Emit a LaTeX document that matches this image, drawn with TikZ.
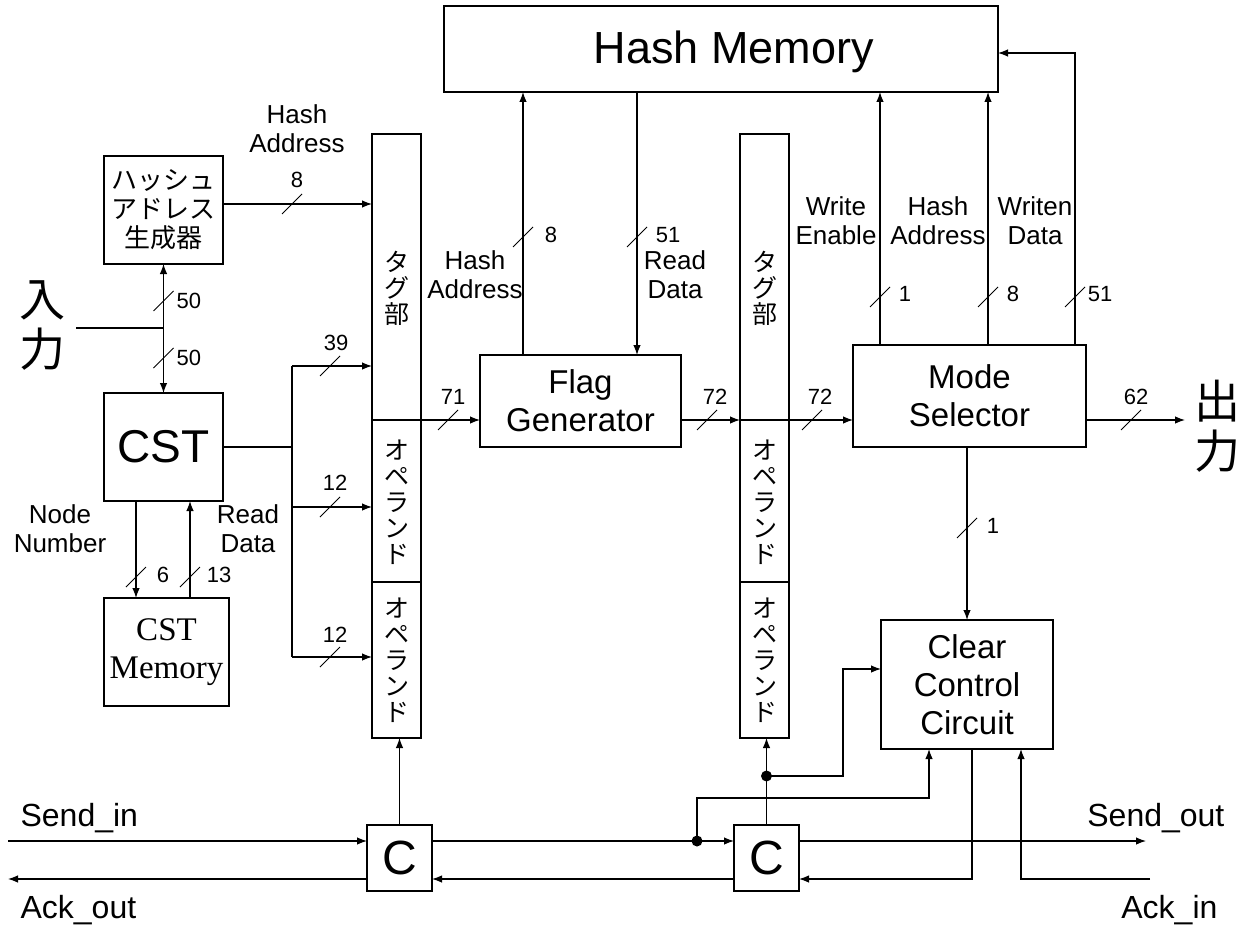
\documentclass[tikz,border=0pt]{standalone}
\usepackage{fontspec}
\setmainfont{Liberation Sans}
\newfontfamily\jp{Noto Sans CJK JP}
\newfontfamily\tms{Liberation Serif}
\usetikzlibrary{arrows.meta,calc}
\newcommand\busmark[1]{\draw[bus] (#1) ++(-10,10) -- ++(20,-20);}
\begin{document}
\begin{tikzpicture}[x=1pt,y=-1pt, line width=1.2pt,
  box/.style={draw, rectangle, inner sep=0pt, outer sep=0pt, align=center},
  arr/.style={-{Latex[length=10pt,width=7.5pt]}},
  bus/.style={line width=1pt},
  num/.style={font=\fontsize{22}{24}\selectfont, inner sep=0pt},
  lbl/.style={font=\fontsize{26}{29}\selectfont, align=center, inner sep=0pt},
  big/.style={font=\fontsize{33}{38}\selectfont},
  vjp/.style={font=\jp\fontsize{25}{26}\selectfont, align=center, inner sep=0pt},
  dot/.style={circle, fill, inner sep=0pt, minimum size=11pt},
  sig/.style={font=\fontsize{32}{36}\selectfont, inner sep=0pt}
]
\useasboundingbox (0,0) rectangle (1241,928);

% ---------- blocks ----------
\node[box, minimum width=554pt, minimum height=86pt] (hm) at (721,49) {};
\node[font=\fontsize{45}{50}\selectfont, anchor=base, inner sep=0pt] (hmt) at (734,64) {Hash Memory};

\node[box, minimum width=119pt, minimum height=108pt, font=\jp\fontsize{26}{29}\selectfont] (hg) at (163.5,210) {ハッシュ\\アドレス\\生成器};
\node[box, minimum width=119pt, minimum height=108pt, font=\fontsize{46}{50}\selectfont] (cst) at (163.5,447) {CST};
\node[box, minimum width=125pt, minimum height=108pt, font=\tms\fontsize{33}{38}\selectfont] (cstm) at (166.5,652) {CST\\Memory};

% register 1
\node[box, minimum width=49pt, minimum height=286pt] (tag1) at (396.5,277) {};
\node[vjp] (tag1t) at (397,288) {タ\\グ\\部};
\node[box, minimum width=49pt, minimum height=162pt] (op1a) at (396.5,501) {};
\node[vjp] (op1at) at (397,502) {オ\\ペ\\ラ\\ン\\ド};
\node[box, minimum width=49pt, minimum height=156pt] (op1b) at (396.5,660) {};
\node[vjp] (op1bt) at (397,660) {オ\\ペ\\ラ\\ン\\ド};

% register 2
\node[box, minimum width=49pt, minimum height=286pt] (tag2) at (764.5,277) {};
\node[vjp] (tag2t) at (765,288) {タ\\グ\\部};
\node[box, minimum width=49pt, minimum height=162pt] (op2a) at (764.5,501) {};
\node[vjp] (op2at) at (765,502) {オ\\ペ\\ラ\\ン\\ド};
\node[box, minimum width=49pt, minimum height=156pt] (op2b) at (764.5,660) {};
\node[vjp] (op2bt) at (765,660) {オ\\ペ\\ラ\\ン\\ド};

\node[box, minimum width=201pt, minimum height=92pt, big] (fg) at (580.5,401) {Flag\\Generator};
\node[box, minimum width=233pt, minimum height=102pt, big] (ms) at (969.5,396) {Mode\\Selector};
\node[box, minimum width=172pt, minimum height=129pt, big] (cc) at (967,684.5) {Clear\\Control\\Circuit};
\node[box, minimum width=65pt, minimum height=66pt, font=\fontsize{48}{50}\selectfont] (c1) at (399.5,858) {C};
\node[box, minimum width=65pt, minimum height=66pt, font=\fontsize{48}{50}\selectfont] (c2) at (766.5,858) {C};

% ---------- big Japanese labels ----------
\node[font=\jp\fontsize{46}{50}\selectfont, align=center, inner sep=0pt] (in) at (42,326) {入\\力};
\node[font=\jp\fontsize{46}{50}\selectfont, align=center, inner sep=0pt] (out) at (1217,426) {出\\力};

% ---------- helper coordinates ----------
\coordinate (ins) at (76,328);
\coordinate (inj) at (163.5,328);
\coordinate (hgo) at (223,204);
\coordinate (b39) at (292,366);
\coordinate (b12a) at (292,507);
\coordinate (b12b) at (292,657);
\coordinate (xNN) at (136,0);
\coordinate (xRD) at (190,0);
\coordinate (xHA) at (523,0);
\coordinate (xRDh) at (637,0);
\coordinate (xWE) at (880,0);
\coordinate (xMA) at (988,0);
\coordinate (tr) at (1075,53);
\coordinate (outp) at (1185,420);
\coordinate (sin) at (8,841);
\coordinate (aout) at (8,879);
\coordinate (j1) at (697,841);
\coordinate (j2) at (766.5,776);
\coordinate (k1) at (843,776);
\coordinate (k2) at (843,669);
\coordinate (k3) at (697,798);
\coordinate (k4) at (929,798);
\coordinate (k5) at (972,879);
\coordinate (k6) at (1021,879);
\coordinate (ain) at (1150,879);
\coordinate (sout) at (1146,841);

% ---------- connectors ----------
% input
\draw (ins) -- (inj);
\draw[arr] (inj) -- (hg.south);
\draw[arr] (inj) -- (cst.north);
\busmark{163.5,301} \node[num, anchor=west] (n50a) at (176,301) {50};
\busmark{163.5,358} \node[num, anchor=west] (n50b) at (176,358) {50};

% hash address generator -> tag
\draw[arr] (hgo -| hg.east) -- (hgo -| tag1.west);
\busmark{292,204} \node[num] (n8a) at (297,180) {8};
\node[lbl] (lHA1) at (297,129) {Hash\\Address};

% CST -> registers
\draw (cst.east) -- (cst.east -| b39);
\draw (b39) -- (b12b);
\draw[arr] (b39) -- (b39 -| tag1.west);
\draw[arr] (b12a) -- (b12a -| op1a.west);
\draw[arr] (b12b) -- (b12b -| op1b.west);
\busmark{330,366} \node[num] (n39) at (336,343) {39};
\busmark{330,507} \node[num] (n12a) at (335,483) {12};
\busmark{330,657} \node[num] (n12b) at (335,635) {12};

% CST <-> CST Memory
\draw[arr] (cst.south -| xNN) -- (cstm.north -| xNN);
\draw[arr] (cstm.north -| xRD) -- (cst.south -| xRD);
\busmark{136,577} \node[num] (n6) at (163,575) {6};
\busmark{190,577} \node[num] (n13) at (219,575) {13};
\node[lbl] (lNN) at (60,529) {Node\\Number};
\node[lbl] (lRD) at (248,529) {Read\\Data};

% register 1 -> flag generator
\draw[arr] (tag1.south west) -- (tag1.south west -| fg.west);
\busmark{448,420} \node[num] (n71) at (453,397) {71};

% flag generator <-> hash memory
\draw[arr] (fg.north -| xHA) -- (hm.south -| xHA);
\draw[arr] (hm.south -| xRDh) -- (fg.north -| xRDh);
\busmark{523,237} \node[num] (n8b) at (551,235) {8};
\busmark{637,237} \node[num] (n51a) at (668,235) {51};
\node[lbl] (lHA2) at (475,275) {Hash\\Address};
\node[lbl] (lRD2) at (675,275) {Read\\Data};

% flag generator -> register 2 -> mode selector
\draw[arr] (tag1.south west -| fg.east) -- (tag2.south west);
\busmark{707,420} \node[num] (n72a) at (715,397) {72};
\draw[arr] (tag2.south west) -- (tag2.south west -| ms.west);
\busmark{812,420} \node[num] (n72b) at (820,397) {72};

% mode selector -> output
\draw[arr] (outp -| ms.east) -- (outp);
\busmark{1131,420} \node[num] (n62) at (1136,397) {62};

% mode selector -> hash memory
\draw[arr] (ms.north -| xWE) -- (hm.south -| xWE);
\draw[arr] (ms.north -| xMA) -- (hm.south -| xMA);
\draw[arr] (ms.north -| tr) -- (tr) -- (tr -| hm.east);
\busmark{880,297} \node[num] (n1a) at (905,294) {1};
\busmark{988,297} \node[num] (n8c) at (1013,294) {8};
\busmark{1075,297} \node[num] (n51b) at (1100,294) {51};
\node[lbl] (lWE) at (836,221) {Write\\Enable};
\node[lbl] (lHA3) at (938,221) {Hash\\Address};
\node[lbl] (lWD) at (1035,221) {Writen\\Data};

% mode selector -> clear control
\draw[arr] (cc.north |- ms.south) -- (cc.north);
\busmark{967,528} \node[num] (n1b) at (993,526) {1};

% ---------- handshake ----------
\draw[arr] (sin) -- (sin -| c1.west);
\draw (sin -| c1.east) -- (j1);
\draw[arr] (j1) -- (j1 -| c2.west);
\node[dot] (d1) at (j1) {};
\draw[arr] (c1.north) -- (c1.north |- op1b.south);
\draw (c2.north) -- (j2);
\draw[arr] (j2) -- (j2 |- op2b.south);
\node[dot] (d2) at (j2) {};
\draw[arr] (j2) -- (k1) -- (k2) -- (k2 -| cc.west);
\draw[arr] (j1) -- (k3) -- (k4) -- (k4 |- cc.south);
\draw[arr] (sin -| c2.east) -- (sout);
\draw[arr] (k5 |- cc.south) -- (k5) -- (k5 -| c2.east);
\draw[arr] (ain) -- (k6) -- (k6 |- cc.south);
\draw[arr] (k5 -| c2.west) -- (k5 -| c1.east);
\draw[arr] (aout -| c1.west) -- (aout);

\node[sig, anchor=base west] (tsin) at (20,826) {Send\_in};
\node[sig, anchor=base west] (taout) at (20,918) {Ack\_out};
\node[sig, anchor=base east] (tsout) at (1225,826) {Send\_out};
\node[sig, anchor=base east] (tain) at (1218,918) {Ack\_in};
\end{tikzpicture}
\end{document}
